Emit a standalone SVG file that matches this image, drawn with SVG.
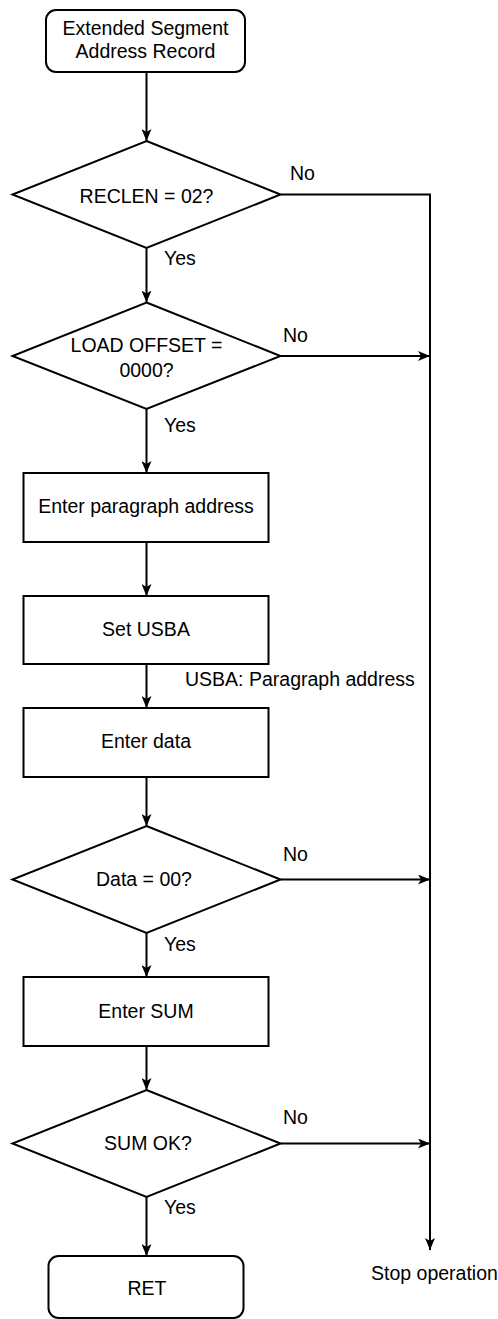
<svg xmlns="http://www.w3.org/2000/svg" width="498" height="1319" viewBox="0 0 498 1319">
  <style>
    .shape { fill: #ffffff; stroke: #000000; stroke-width: 2; }
    .link { fill: none; stroke: #000000; stroke-width: 2; }
    text { font-family: "Liberation Sans", Arial, sans-serif; font-size: 19.5px; fill: #000000; }
    .c { text-anchor: middle; }
  </style>
  <defs>
    <marker id="arrow" viewBox="0 0 12 10" refX="12" refY="5" markerWidth="12" markerHeight="10" markerUnits="userSpaceOnUse" orient="auto">
      <path d="M0,0 L12,5 L0,10 L3,5 Z" fill="#000000"/>
    </marker>
  </defs>
  <rect width="498" height="1319" fill="#ffffff"/>

  <!-- connectors -->
  <g id="connectors">
    <line class="link" x1="146.5" y1="72" x2="146.5" y2="141" marker-end="url(#arrow)"/>
    <line class="link" x1="146.5" y1="248" x2="146.5" y2="302.5" marker-end="url(#arrow)"/>
    <line class="link" x1="146.5" y1="409" x2="146.5" y2="473" marker-end="url(#arrow)"/>
    <line class="link" x1="146.5" y1="542" x2="146.5" y2="596" marker-end="url(#arrow)"/>
    <line class="link" x1="146.5" y1="664" x2="146.5" y2="708" marker-end="url(#arrow)"/>
    <line class="link" x1="146.5" y1="777" x2="146.5" y2="826" marker-end="url(#arrow)"/>
    <line class="link" x1="146.5" y1="933" x2="146.5" y2="977" marker-end="url(#arrow)"/>
    <line class="link" x1="146.5" y1="1046" x2="146.5" y2="1090" marker-end="url(#arrow)"/>
    <line class="link" x1="146.5" y1="1197" x2="146.5" y2="1256" marker-end="url(#arrow)"/>
    <!-- "No" branches to the stop line -->
    <polyline class="link" points="280.5,194.5 430,194.5 430,1250" marker-end="url(#arrow)"/>
    <line class="link" x1="280.5" y1="356" x2="430" y2="356" marker-end="url(#arrow)"/>
    <line class="link" x1="280.5" y1="879.5" x2="430" y2="879.5" marker-end="url(#arrow)"/>
    <line class="link" x1="280.5" y1="1143.5" x2="430" y2="1143.5" marker-end="url(#arrow)"/>
    <text x="290" y="180">No</text>
    <text x="283" y="342">No</text>
    <text x="283" y="861">No</text>
    <text x="283" y="1124">No</text>
    <text x="164" y="265">Yes</text>
    <text x="164" y="432">Yes</text>
    <text x="164" y="951">Yes</text>
    <text x="164" y="1214">Yes</text>
    <text x="185" y="686">USBA: Paragraph address</text>
    <text x="371" y="1280">Stop operation</text>
  </g>

  <g id="start">
    <rect class="shape" x="46" y="10" width="199" height="62" rx="10" ry="10"/>
    <text class="c" x="145.5" y="35">Extended Segment</text>
    <text class="c" x="145.5" y="58">Address Record</text>
  </g>

  <g id="check-reclen">
    <polygon class="shape" points="146.5,141 280.5,194.5 146.5,248 12.5,194.5"/>
    <text class="c" x="146.5" y="203">RECLEN = 02?</text>
  </g>

  <g id="check-offset">
    <polygon class="shape" points="146.5,302.5 280.5,356 146.5,409 12.5,356"/>
    <text class="c" x="146.5" y="352">LOAD OFFSET =</text>
    <text class="c" x="146.5" y="377">0000?</text>
  </g>

  <g id="enter-paragraph">
    <rect class="shape" x="23.5" y="473" width="245" height="69"/>
    <text class="c" x="146" y="513">Enter paragraph address</text>
  </g>

  <g id="set-usba">
    <rect class="shape" x="23.5" y="596" width="245" height="68"/>
    <text class="c" x="146" y="636">Set USBA</text>
  </g>

  <g id="enter-data">
    <rect class="shape" x="23.5" y="708" width="245" height="69"/>
    <text class="c" x="146" y="748">Enter data</text>
  </g>

  <g id="check-data">
    <polygon class="shape" points="146.5,826 280.5,879.5 146.5,933 12.5,879.5"/>
    <text class="c" x="144" y="886">Data = 00?</text>
  </g>

  <g id="enter-sum">
    <rect class="shape" x="23.5" y="977" width="245" height="69"/>
    <text class="c" x="146" y="1018">Enter SUM</text>
  </g>

  <g id="check-sum">
    <polygon class="shape" points="146.5,1090 280.5,1143.5 146.5,1197 12.5,1143.5"/>
    <text class="c" x="148" y="1150">SUM OK?</text>
  </g>

  <g id="ret">
    <rect class="shape" x="48.5" y="1256" width="195" height="62" rx="10" ry="10"/>
    <text class="c" x="147" y="1295">RET</text>
  </g>
</svg>
